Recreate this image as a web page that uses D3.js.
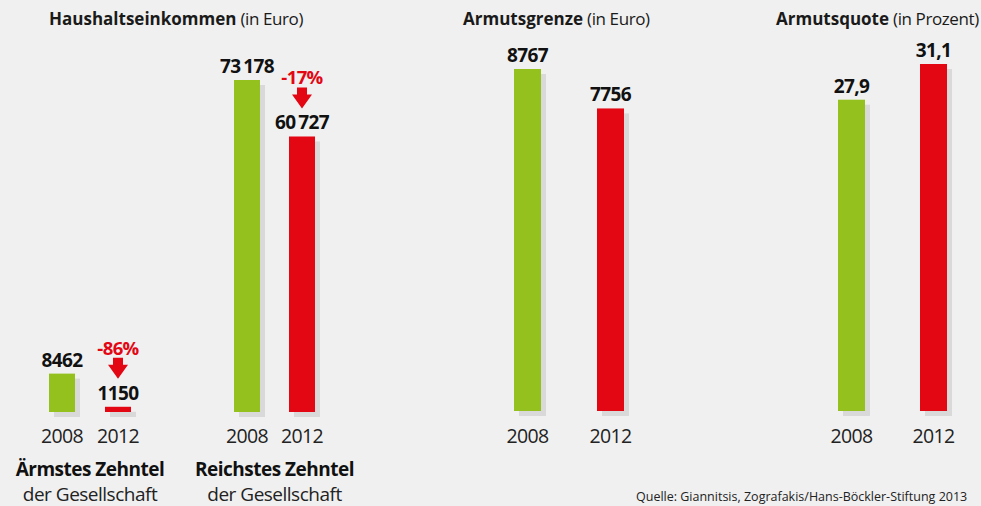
<!DOCTYPE html>
<html>
<head>
<meta charset="utf-8">
<script src="https://cdn.jsdelivr.net/npm/d3@7"></script>
<style>
  html,body{margin:0;padding:0;background:#f0f0f0;}
  svg{display:block;font-family:"Open Sans","Noto Sans",sans-serif;}
  .title{font-size:17px;fill:#1a1a1a;}
  .val{font-size:19px;font-weight:700;fill:#111;letter-spacing:-0.6px;}
  .pct{font-size:18.5px;font-weight:700;fill:#e30613;letter-spacing:-0.6px;}
  .year{font-size:19.5px;font-weight:400;fill:#222;letter-spacing:-0.6px;}
  .grp{font-size:19px;font-weight:700;fill:#111;letter-spacing:-0.5px;}
  .grpsub{font-size:19px;font-weight:400;fill:#222;letter-spacing:-0.5px;}
  .src{font-size:12.5px;fill:#222;}
</style>
</head>
<body>
<div id="chart"></div>
<script>
/* data */
var years=["2008","2012"];
var incomePoorest=[8462,1150];
var incomeRichest=[73178,60727];
var povertyLine=[8767,7756];
var povertyRate=[27.9,31.1];
var barColors=["#95c11f","#e30613"];

var W=981,H=506;
var svg=d3.select("#chart").append("svg").attr("width",W).attr("height",H);
svg.append("rect").attr("width",W).attr("height",H).attr("fill","#f0f0f0");

var deNum=d3.formatLocale({decimal:",",thousands:"\u2009",grouping:[3],currency:["","€"]});
function fmtEuro(v){return v>=10000?deNum.format(",d")(v):d3.format("d")(v);}
var fmtPct=deNum.format(".1f");

var BW=26;
function bandFor(x0,x1,bw){
    var r=x1-x0, p=(r-2*bw)/(r-bw);
    return d3.scaleBand().domain(years).range([x0,x1]).paddingInner(p).paddingOuter(0);
}

/* one pair of bars with shadow, value labels and optional change arrow */
function drawPair(vals,x,y,fmt,showChange){
    var rows=years.map(function(yr,i){return {year:yr,v:vals[i],i:i};});
    var g=svg.append("g");
    var base=y(0);
    g.selectAll("rect.shadow").data(rows).enter().append("rect").attr("class","shadow")
        .attr("x",function(d){return x(d.year)+5;}).attr("y",function(d){return y(d.v)+5;})
        .attr("width",x.bandwidth()).attr("height",function(d){return base-y(d.v);})
        .attr("fill","#d9d9d9");
    g.selectAll("rect.mark").data(rows).enter().append("rect").attr("class","mark")
        .attr("x",function(d){return x(d.year);}).attr("y",function(d){return y(d.v);})
        .attr("width",x.bandwidth()).attr("height",function(d){return base-y(d.v);})
        .attr("fill",function(d){return barColors[d.i];});
    g.selectAll("text.val").data(rows).enter().append("text").attr("class","val")
        .attr("x",function(d){return x(d.year)+x.bandwidth()/2;})
        .attr("y",function(d){return y(d.v)-7;})
        .attr("text-anchor","middle").text(function(d){return fmt(d.v);});
    g.selectAll("text.year").data(rows).enter().append("text").attr("class","year")
        .attr("x",function(d){return x(d.year)+x.bandwidth()/2;}).attr("y",443)
        .attr("text-anchor","middle").text(function(d){return d.year;});
    if(showChange){
        var d=rows[1], cx=x(d.year)+x.bandwidth()/2;
        var bot=y(d.v)-28, top=bot-21;
        var change=Math.round((vals[1]-vals[0])/vals[0]*100);
        g.append("path").attr("fill","#e30613")
            .attr("d","M"+(cx-5)+","+top+"H"+(cx+5)+"V"+(top+7)+"H"+(cx+10)+"L"+cx+","+bot+"L"+(cx-10)+","+(top+7)+"H"+(cx-5)+"Z");
        g.append("text").attr("class","pct").attr("x",cx).attr("y",top-3)
            .attr("text-anchor","middle").text(change+"%");
    }
}

function title(x,bold,light){
    var t=svg.append("text").attr("class","title").attr("x",x).attr("y",25);
    t.append("tspan").attr("font-weight",700).text(bold);
    t.append("tspan").attr("font-weight",400).attr("letter-spacing","-0.4px").text(" "+light);
}

/* panel 1: household income */
title(49,"Haushaltseinkommen","(in Euro)");
var yInc=d3.scaleLinear().domain([0,d3.max(incomeRichest)]).range([412,80]);
drawPair(incomePoorest,bandFor(49,131,BW),yInc,fmtEuro,true);
drawPair(incomeRichest,bandFor(234,315,BW),yInc,fmtEuro,true);

[["Ärmstes Zehntel",90],["Reichstes Zehntel",274.5]].forEach(function(s){
    svg.append("text").attr("class","grp").attr("x",s[1]).attr("y",476).attr("text-anchor","middle").text(s[0]);
    svg.append("text").attr("class","grpsub").attr("x",s[1]).attr("y",501).attr("text-anchor","middle").text("der Gesellschaft");
});

/* panel 2: poverty line */
title(463,"Armutsgrenze","(in Euro)");
var yLine=d3.scaleLinear().domain([0,d3.max(povertyLine)]).range([411,69]);
drawPair(povertyLine,bandFor(514,624,27),yLine,fmtEuro,false);

/* panel 3: poverty rate */
title(776,"Armutsquote","(in Prozent)");
var yRate=d3.scaleLinear().domain([0,d3.max(povertyRate)]).range([411,64]);
drawPair(povertyRate,bandFor(838,947,27),yRate,fmtPct,false);

svg.append("text").attr("class","src").attr("x",636).attr("y",501)
    .text("Quelle: Giannitsis, Zografakis/Hans-Böckler-Stiftung 2013");
</script>
</body>
</html>
